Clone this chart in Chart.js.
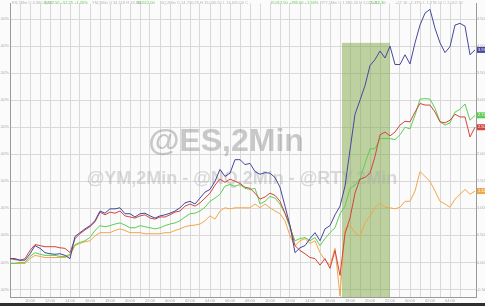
<!DOCTYPE html>
<html>
<head>
<meta charset="utf-8">
<script src="https://cdn.jsdelivr.net/npm/chart.js@4.4.1/dist/chart.umd.min.js"></script>
<style>
    html, body { margin: 0; padding: 0; background: #2e2e2e; }
    #wrap { width: 485px; height: 306px; overflow: hidden; }
    canvas { display: block; }
</style>
</head>
<body>
<div id="wrap"><canvas id="chart" width="485" height="303"></canvas></div>
<script>
// etichette orarie sotto l'asse x (una ogni 4 campioni)
const timeLabels = ['10:00', '12:00', '14:00', '16:00', '18:00', '20:00', '22:00', '00:00',
    '02:00', '04:00', '06:00', '08:00', '10:00', '12:00', '14:00', '16:00',
    '18:00', '20:00', '22:00', '00:00', '02:00', '04:00'];

// variazione % dall'apertura, un campione ogni passo
const esValues = [0.07, 0.07, 0.04, 0.04, 0.16, 0.31, 0.26, 0.18, 0.16, 0.15,
    0.16, 0.13, 0.07, 0.48, 0.55, 0.62, 0.68, 0.77, 0.95, 0.91,
    0.99, 0.99, 1.01, 0.90, 0.90, 0.84, 0.90, 0.91, 0.86, 0.82,
    0.86, 0.88, 0.91, 0.95, 1.01, 1.10, 1.13, 1.08, 1.19, 1.30,
    1.35, 1.50, 1.72, 1.59, 1.65, 1.90, 1.90, 1.81, 1.83, 1.68,
    1.63, 1.66, 1.65, 1.57, 1.39, 1.04, 0.68, 0.18, 0.27, 0.31,
    0.44, 0.55, 0.40, 0.62, 0.68, 0.88, 1.04, 1.41, 2.08, 2.74,
    3.00, 3.27, 3.64, 3.75, 3.91, 3.78, 4.00, 3.66, 3.66, 3.84,
    3.67, 4.06, 4.39, 4.61, 4.68, 4.33, 4.06, 3.88, 3.99, 4.39,
    4.42, 4.37, 3.84, 3.93];

const ymValues = [0.07, 0.05, 0.04, 0.07, 0.22, 0.33, 0.31, 0.29, 0.29, 0.29,
    0.27, 0.26, 0.18, 0.44, 0.53, 0.60, 0.66, 0.75, 0.93, 0.88,
    0.93, 0.91, 0.95, 0.86, 0.84, 0.82, 0.86, 0.88, 0.82, 0.80,
    0.84, 0.84, 0.88, 0.93, 0.95, 1.04, 1.08, 1.04, 1.10, 1.19,
    1.28, 1.43, 1.54, 1.48, 1.54, 1.50, 1.46, 1.39, 1.37, 1.28,
    1.17, 1.21, 1.28, 1.24, 1.13, 0.91, 0.68, 0.31, 0.22, 0.16,
    0.09, 0.07, -0.05, 0.07, -0.11, 0.22, -0.24, 0.53, 0.82, 1.28,
    1.54, 1.57, 1.65, 1.96, 2.36, 2.41, 2.34, 2.41, 2.54, 2.61,
    2.60, 2.78, 2.94, 2.91, 2.91, 2.78, 2.60, 2.58, 2.63, 2.74,
    2.69, 2.69, 2.32, 2.50];

const nqValues = [-0.02, -0.02, 0.00, 0.00, 0.11, 0.18, 0.15, 0.13, 0.13, 0.13,
    0.11, 0.11, 0.15, 0.33, 0.37, 0.40, 0.46, 0.59, 0.68, 0.66,
    0.68, 0.71, 0.73, 0.69, 0.64, 0.64, 0.68, 0.66, 0.64, 0.62,
    0.64, 0.68, 0.71, 0.73, 0.77, 0.84, 0.90, 0.91, 0.95, 1.02,
    1.13, 1.19, 1.26, 1.41, 1.44, 1.41, 1.44, 1.37, 1.35, 1.37,
    1.08, 1.13, 1.22, 1.19, 1.08, 0.90, 0.64, 0.40, 0.44, 0.46,
    0.40, 0.46, 0.31, 0.44, 0.55, 0.64, 0.90, 1.04, 1.37, 1.43,
    1.55, 1.83, 2.10, 2.10, 2.29, 2.29, 2.29, 2.27, 2.36, 2.50,
    2.47, 2.72, 3.02, 3.03, 3.02, 2.85, 2.60, 2.54, 2.58, 2.78,
    2.83, 2.93, 2.63, 2.72];

const rtyValues = [-0.02, -0.02, -0.02, -0.02, 0.07, 0.13, 0.11, 0.09, 0.09, 0.09,
    0.09, 0.09, 0.13, 0.31, 0.35, 0.38, 0.40, 0.49, 0.55, 0.55,
    0.55, 0.59, 0.62, 0.59, 0.55, 0.55, 0.55, 0.53, 0.53, 0.53,
    0.53, 0.55, 0.55, 0.59, 0.62, 0.66, 0.68, 0.69, 0.71, 0.77,
    0.86, 0.80, 0.95, 1.01, 0.99, 1.01, 1.01, 1.01, 1.01, 1.08,
    1.01, 1.08, 1.01, 0.95, 0.90, 0.77, 0.49, 0.31, 0.40, 0.44,
    0.35, 0.40, 0.18, 0.04, -0.05, 0.26, -0.62, 0.62, 0.68, 0.55,
    0.48, 0.73, 0.86, 1.01, 1.10, 1.02, 1.01, 0.99, 1.02, 1.13,
    1.13, 1.32, 1.68, 1.59, 1.50, 1.32, 1.13, 1.08, 1.02, 1.17,
    1.26, 1.35, 1.26, 1.32];

// finestra evidenziata (indici campione e livello superiore)
const shadeFrom = 66.4;
const shadeTo = 76;
const shadeTop = 4.06;

const serie = [
    { label: '@ES,2Min', data: esValues, color: '#45479f' },
    { label: '@YM,2Min', data: ymValues, color: '#d2453c' },
    { label: '@NQ,2Min', data: nqValues, color: '#5ccf50' },
    { label: '@RTY,2Min', data: rtyValues, color: '#f2a64a' }
];

const gridColor = '#d9d9d9';
const tickFont = { family: 'Liberation Sans', size: 4 };

// sfondo, area verde e scritte in filigrana
const sfondo = {
    id: 'sfondo',
    beforeDraw(chart) {
        const c = chart.ctx;
        c.save();
        c.fillStyle = '#fbfbfb';
        c.fillRect(0, 0, chart.width, chart.height);
        c.restore();
    },
    beforeDatasetsDraw(chart) {
        const c = chart.ctx;
        const x = chart.scales.x;
        const y = chart.scales.y;
        c.save();
        const x0 = x.getPixelForValue(shadeFrom);
        const x1 = x.getPixelForValue(shadeTo);
        const y0 = y.getPixelForValue(shadeTop);
        c.fillStyle = 'rgba(128, 168, 70, 0.5)';
        c.fillRect(x0, y0, x1 - x0, chart.chartArea.bottom - y0);

        c.textAlign = 'center';
        c.textBaseline = 'alphabetic';
        c.fillStyle = 'rgba(150, 150, 150, 0.5)';
        c.font = 'bold 32px "Liberation Sans", Arial, sans-serif';
        c.fillText('@ES,2Min', 226, 151);
        c.fillStyle = 'rgba(170, 170, 170, 0.42)';
        c.font = 'bold 18px "Liberation Sans", Arial, sans-serif';
        c.fillText('@YM,2Min - @NQ,2Min - @RTY,2Min', 242, 184);
        c.restore();
    }
};

// intestazione in alto e riquadri dell'ultimo valore a destra
const etichette = {
    id: 'etichette',
    afterDraw(chart) {
        const c = chart.ctx;
        c.save();
        c.font = '4px "Liberation Sans", Arial, sans-serif';
        c.textBaseline = 'middle';
        const header = [
            [12, 'ES,2Min O 4,360.25 H', '#b4b4b4'],
            [44, '4,412.50 +52.25 +1.20%', '#66c558'],
            [92, 'YM,2Min O 34,118 H 34,620', '#b4b4b4'],
            [137, '34,512.00', '#66c558'],
            [160, 'NQ,2Min O 14,730.25 H 15,030.50 L 14,655.00 C', '#b4b4b4'],
            [270, '15,012.50 +285.00 +1.94%', '#66c558'],
            [320, 'RTY,2Min O 1,985.20 H 2,025.40', '#b4b4b4'],
            [370, '2,012.30', '#66c558'],
            [395, '+27.10 +1.37% L 1,978.10 C 2,012.30', '#b4b4b4']
        ];
        header.forEach(h => {
            c.fillStyle = h[2];
            c.fillText(h[1], h[0], 3);
        });

        const y = chart.scales.y;
        serie.forEach(s => {
            const v = s.data[s.data.length - 1];
            const py = y.getPixelForValue(v);
            c.fillStyle = s.color;
            c.fillRect(477, py - 3, 8, 6);
            c.fillStyle = '#ffffff';
            c.textAlign = 'left';
            c.fillText(v.toFixed(2), 478, py);
        });
        c.restore();
    }
};

const soloMezzi = scale => {
    scale.ticks = scale.ticks.filter(t => Math.abs(t.value * 2 - Math.round(t.value * 2)) < 1e-6);
};

new Chart(document.getElementById('chart').getContext('2d'), {
    type: 'line',
    data: {
        datasets: serie.map(s => ({
            label: s.label,
            data: s.data.map((v, i) => ({ x: i, y: v })),
            borderColor: s.color,
            backgroundColor: s.color,
            borderWidth: 1,
            pointRadius: 0,
            tension: 0,
            fill: false
        }))
    },
    options: {
        responsive: false,
        animation: false,
        layout: { padding: 0 },
        plugins: { legend: { display: false }, tooltip: { enabled: false } },
        scales: {
            x: {
                type: 'linear',
                min: 0,
                max: 93.2,
                afterBuildTicks: scale => {
                    scale.ticks = scale.ticks.filter(t => Number.isInteger(t.value) && t.value % 2 === 0);
                },
                afterFit: scale => { scale.height = 6; },
                grid: { color: gridColor, lineWidth: 1, drawTicks: false },
                border: { color: '#9a9a9a' },
                ticks: {
                    stepSize: 2,
                    autoSkip: false,
                    maxRotation: 0,
                    padding: 1,
                    color: '#a4a4a4',
                    font: tickFont,
                    callback: v => {
                        const k = (v - 4) / 4;
                        return Number.isInteger(k) && k >= 0 && k < timeLabels.length ? timeLabels[k] : '';
                    }
                }
            },
            y: {
                min: -0.64,
                max: 4.79,
                afterBuildTicks: soloMezzi,
                afterFit: scale => { scale.width = 10; },
                grid: { color: gridColor, lineWidth: 1, drawTicks: false },
                border: { color: '#9a9a9a' },
                ticks: {
                    stepSize: 0.5,
                    padding: 1,
                    color: '#a8a8a8',
                    font: tickFont,
                    callback: v => v.toFixed(2) + '%'
                }
            },
            y2: {
                position: 'right',
                min: -0.64,
                max: 4.79,
                afterBuildTicks: soloMezzi,
                afterFit: scale => { scale.width = 9; },
                grid: { display: false, drawTicks: false },
                border: { color: '#9a9a9a' },
                ticks: {
                    stepSize: 0.5,
                    padding: 1,
                    color: '#a8a8a8',
                    font: tickFont,
                    callback: v => v.toFixed(2) + '%'
                }
            }
        }
    },
    plugins: [sfondo, etichette]
});
</script>
</body>
</html>
